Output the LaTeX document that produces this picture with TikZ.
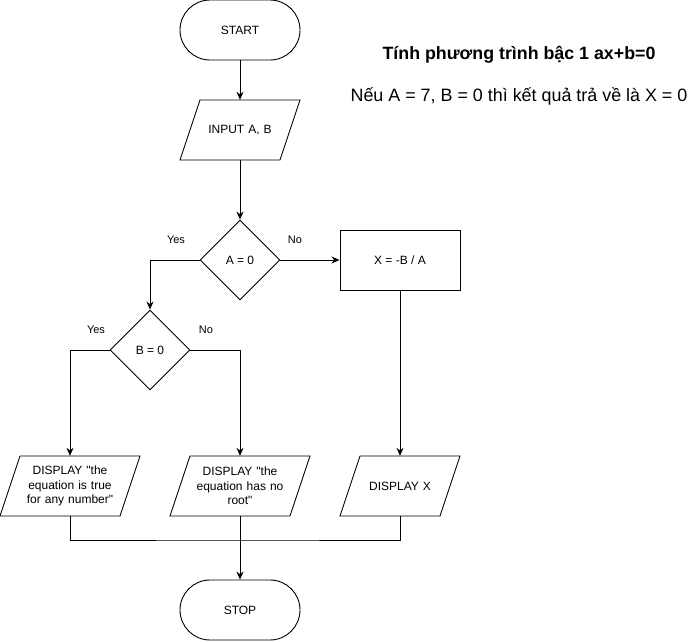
\documentclass[tikz,border=0pt]{standalone}
\usepackage{fontspec}
\setmainfont{Liberation Sans}[Ligatures=TeXOff]
\usetikzlibrary{shapes.geometric,arrows.meta}
\newcommand\paral[2]{\draw[line,shift={(#1.center)}] (-#2+20,-30) -- (#2,-30) -- (#2-20,30) -- (-#2,30) -- cycle;}
\begin{document}
\begin{tikzpicture}[x=1pt,y=-1pt,
  every node/.style={font=\fontsize{12}{14.5}\selectfont},
  line/.style={line width=0.9pt},
  term/.style={line, draw, rectangle, rounded corners=30pt, minimum width=120pt, minimum height=60pt},
  proc/.style={line, draw, rectangle, minimum width=120pt, minimum height=60pt},
  dec/.style={line, draw, diamond, minimum width=80pt, minimum height=80pt, inner sep=0pt},
  io/.style={align=center, minimum height=60pt, inner sep=0pt},
  lab/.style={font=\fontsize{11}{13}\selectfont},
  arr/.style={line, -{Stealth[length=8pt,width=7pt]}}]
\useasboundingbox (0,0) rectangle (697,641);

\node[term] (start) at (240,30) {START};
\node[io, text width=100pt] (in) at (240,130) {INPUT A, B};
\paral{in}{60}
\node[dec] (d1) at (240,260) {A = 0};
\node[proc] (xr) at (400,260) {X = -B / A};
\node[dec] (d2) at (150,350) {B = 0};
\node[io, text width=110pt] (p1) at (70,486) {DISPLAY "the\\equation is true\\for any number"};
\paral{p1}{70}
\node[io, text width=110pt] (p2) at (240,486) {DISPLAY "the\\equation has no\\root"};
\paral{p2}{70}
\node[io, text width=100pt] (px) at (400,486) {DISPLAY X};
\paral{px}{60}
\node[term] (stop) at (240,610) {STOP};

\node[font=\fontsize{17.8}{21}\selectfont\bfseries] (title) at (519,55) {Tính phương trình bậc 1 ax+b=0};
\node[font=\fontsize{17.9}{21}\selectfont] (sub) at (519,96) {Nếu A = 7, B = 0 thì kết quả trả về là X = 0};

\node[lab] (yes1) at (176,240) {Yes};
\node[lab] (no1) at (295,240) {No};
\node[lab] (yes2) at (96,330) {Yes};
\node[lab] (no2) at (206,330) {No};

\draw[arr] (start.south) -- (in.north);
\draw[arr] (in.south) -- (d1.north);
\draw[arr] (d1.east) -- (xr.west);
\draw[arr] (d1.west) -| (d2.north);
\draw[arr] (d2.west) -| (p1.north);
\draw[arr] (d2.east) -| (p2.north);
\draw[arr] (xr.south) -- (px.north);
\coordinate (j) at (240,540);
\draw[line] (p1.south) |- (j) -| (px.south);
\draw[arr] (p2.south) -- (stop.north);
\end{tikzpicture}
\end{document}
